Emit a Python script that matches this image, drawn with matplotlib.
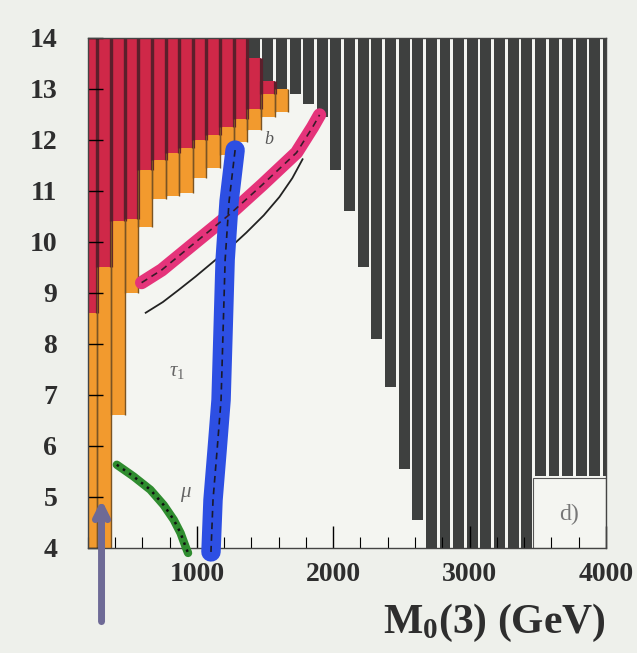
import numpy as np
import matplotlib
matplotlib.use('Agg')
import matplotlib.pyplot as plt
from matplotlib.patches import Rectangle
from matplotlib.ticker import MultipleLocator

# ---------------- data ----------------
# scan grid columns (M0(3) in GeV)
col_m0 = [220, 320, 420, 520, 620, 720, 820, 920, 1020, 1120, 1220, 1320,
          1420, 1520, 1620, 1720, 1820, 1920, 2020, 2120, 2220, 2320, 2420,
          2520, 2620, 2720, 2820, 2920, 3020, 3120, 3220, 3320, 3420,
          3520, 3620, 3720, 3820, 3920, 4020]

# grey (excluded) region: lower edge of every column (top is 14)
black_m0 = col_m0[12:]
black_bot = [13.6, 13.15, 13.0, 12.9, 12.7, 12.45, 11.4, 10.6, 9.5, 8.1, 7.15,
             5.55, 4.55, 4.0, 4.0, 4.0, 4.0, 4.0, 4.0, 4.0, 4.0,
             5.4, 5.4, 5.4, 5.4, 5.4, 5.4]

# red (hand coloured) region
red_m0 = col_m0[:14]
red_top = [14, 14, 14, 14, 14, 14, 14, 14, 14, 14, 14, 14, 13.6, 13.15]
red_bot = [8.6, 9.5, 10.4, 10.45, 11.4, 11.6, 11.75, 11.85, 12.0, 12.1, 12.25,
           12.4, 12.6, 12.9]

# orange (hand coloured) region
orange_m0 = col_m0[:15]
orange_top = [8.6, 9.5, 10.4, 10.45, 11.4, 11.6, 11.75, 11.85, 12.0, 12.1,
              12.25, 12.4, 12.6, 12.9, 13.0]
orange_bot = [4.0, 4.0, 6.6, 9.0, 10.3, 10.85, 10.9, 10.95, 11.25, 11.45, 11.7,
              11.95, 12.2, 12.45, 12.55]

# pink band (dashed contour "b")
pink_x = [594, 742, 993, 1236, 1480, 1731, 1849, 1900]
pink_y = [9.2, 9.45, 10.0, 10.53, 11.12, 11.75, 12.25, 12.49]

# thin black solid contour
line_x = [624, 750, 867, 990, 1111, 1240, 1362, 1490, 1605, 1700, 1775]
line_y = [8.61, 8.82, 9.06, 9.32, 9.59, 9.88, 10.18, 10.52, 10.88, 11.25, 11.62]

# blue band (dashed contour)
blue_x = [1280, 1236, 1207, 1192, 1177, 1148, 1118, 1103]
blue_y = [11.80, 10.80, 9.65, 8.27, 6.90, 5.92, 4.94, 3.92]

# green dotted contour (mu)
green_x = [412, 535, 658, 756, 830, 880, 917, 935]
green_y = [5.63, 5.40, 5.14, 4.84, 4.55, 4.29, 4.02, 3.9]

# purple arrow
arrow_x = 300
arrow_y0, arrow_y1 = 2.5, 5.0

x_ticks = [1000, 2000, 3000, 4000]
y_ticks = [4, 5, 6, 7, 8, 9, 10, 11, 12, 13, 14]

# ---------------- styling ----------------
BG = '#eef0eb'
AXBG = '#f4f5f1'
GREY = '#3e403f'
RED = '#cf2848'
DARKRED = '#5c1f2b'
ORANGE = '#f29a2e'
DARKOR = '#7a5424'

plt.rcParams['font.family'] = ['Liberation Serif', 'DejaVu Serif']
plt.rcParams['mathtext.fontset'] = 'custom'
plt.rcParams['mathtext.rm'] = 'Liberation Serif'
plt.rcParams['mathtext.it'] = 'Liberation Serif:italic'
plt.rcParams['mathtext.bf'] = 'Liberation Serif:bold'

fig = plt.figure(figsize=(6.37, 6.53), dpi=100, facecolor=BG)
ax = fig.add_axes([0.138, 0.161, 0.813, 0.781], facecolor=AXBG)

# grey excluded columns
ax.bar(black_m0, [14 - b for b in black_bot], bottom=black_bot, width=80,
       color=GREY, linewidth=0, zorder=1)

# red columns
ax.bar(red_m0, [t - b for t, b in zip(red_top, red_bot)], bottom=red_bot,
       width=100, color=RED, linewidth=0, zorder=1.2)
ax.vlines([m - 50 for m in red_m0], red_bot, red_top, color=DARKRED, lw=2.3, zorder=1.3)
ax.vlines([m + 50 for m in red_m0], red_bot, red_top, color=DARKRED, lw=2.3, zorder=1.3)

# orange columns
ax.bar(orange_m0, [t - b for t, b in zip(orange_top, orange_bot)], bottom=orange_bot,
       width=100, color=ORANGE, linewidth=0, zorder=1.2)
ax.vlines([m - 50 for m in orange_m0], orange_bot, orange_top, color=DARKOR, lw=1.0, zorder=1.3)
ax.vlines([m + 50 for m in orange_m0], orange_bot, orange_top, color=DARKOR, lw=1.0, zorder=1.3)

# label box "d)"
ax.add_patch(Rectangle((3465, 4.0), 535, 1.37, facecolor=AXBG, edgecolor='#555555',
                       lw=0.8, zorder=1.5))
ax.text(3730, 4.65, 'd)', fontsize=17, color='#777777', ha='center', va='center', zorder=6)

# contours
ax.plot(pink_x, pink_y, color='#e5337a', lw=9.5, solid_capstyle='round', zorder=3)
ax.plot(pink_x, pink_y, color='#3a1a2a', lw=1.2, ls=(0, (4, 3)), zorder=4)
ax.plot(line_x, line_y, color='#222222', lw=1.3, zorder=3)

ax.plot(blue_x, blue_y, color='#2d4fe3', lw=14, solid_capstyle='round', zorder=3.5, clip_on=False)
ax.plot(blue_x, blue_y, color='#1a1a2a', lw=1.2, ls=(0, (4, 3)), zorder=4, clip_on=False)

ax.plot(green_x, green_y, color='#2f8c2f', lw=6, solid_capstyle='round', zorder=3, clip_on=False)
ax.plot(green_x, green_y, color='#111111', lw=1.8, ls=(0, (1, 2)), zorder=4, clip_on=False)

ax.annotate('', xy=(arrow_x, arrow_y1), xytext=(arrow_x, arrow_y0),
            arrowprops=dict(arrowstyle='->', color='#6e6a96', lw=5, mutation_scale=22),
            annotation_clip=False, zorder=6)

# small labels
ax.text(852, 7.45, r'$\tau_1$', fontsize=15, color='#666666', ha='center', va='center', zorder=5)
ax.text(919, 5.04, r'$\mu$', fontsize=15, color='#666666', ha='center', va='center', zorder=5)
ax.text(1531, 12.0, r'$b$', fontsize=13, color='#555555', ha='center', va='center', zorder=5)

# axes
ax.set_xlim(200, 4000)
ax.set_ylim(4, 14)
ax.set_xticks(x_ticks)
ax.set_xticklabels([str(v) for v in x_ticks])
ax.set_yticks(y_ticks)
ax.set_yticklabels([str(v) for v in y_ticks])
ax.xaxis.set_minor_locator(MultipleLocator(200))
ax.tick_params(axis='x', which='major', direction='in', length=16, width=1.0, pad=10,
               labelsize=20, top=False)
ax.tick_params(axis='x', which='minor', direction='in', length=8, width=0.8, top=False)
ax.tick_params(axis='y', which='major', direction='in', length=11, width=1.0, pad=22,
               labelsize=20, right=False)
for lab in ax.get_xticklabels() + ax.get_yticklabels():
    lab.set_fontweight('bold')
    lab.set_color('#2e2e2e')
for sp in ax.spines.values():
    sp.set_linewidth(1.0)
    sp.set_color('#444444')

ax.set_xlabel(r'M$_{\mathbf{0}}$(3) (GeV)', fontsize=30, fontweight='bold',
              color='#2e2e2e', loc='right', labelpad=11)

fig.savefig('out.png', dpi=100, facecolor=BG)
